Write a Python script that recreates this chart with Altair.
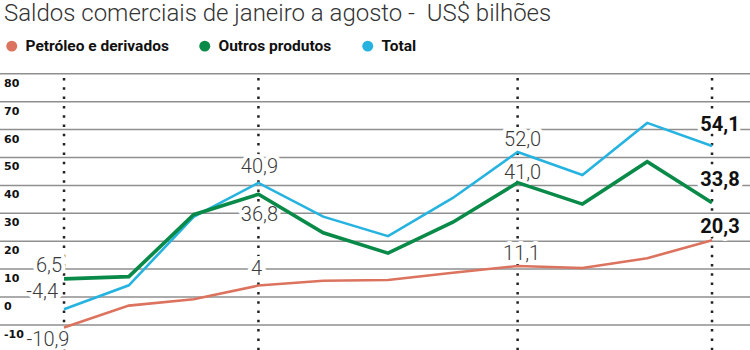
import altair as alt
import pandas as pd

# ---------------- data ----------------
idx = list(range(11))
petroleo = [-10.9, -3.1, -0.8, 4.1, 5.8, 6.1, 8.7, 11.1, 10.4, 13.9, 20.3]
outros = [6.5, 7.3, 29.5, 36.8, 23.0, 15.7, 26.8, 41.0, 33.3, 48.5, 33.8]
total = [-4.4, 4.2, 28.7, 40.9, 28.8, 21.8, 35.5, 52.0, 43.7, 62.4, 54.1]

series_names = ["Petróleo e derivados", "Outros produtos", "Total"]
series_colors = ["#DC735F", "#0A8A48", "#27B3DF"]

y_ticks = [-10, 0, 10, 20, 30, 40, 50, 60, 70, 80]
marker_idx = [0, 3, 7, 10]

lab_serie = ["Outros produtos", "Total", "Petróleo e derivados",
             "Total", "Outros produtos", "Petróleo e derivados",
             "Total", "Outros produtos", "Petróleo e derivados",
             "Total", "Outros produtos", "Petróleo e derivados"]
lab_i = [0, 0, 0, 3, 3, 3, 7, 7, 7, 10, 10, 10]
lab_text = ["6,5", "-4,4", "-10,9", "40,9", "36,8", "4",
            "52,0", "41,0", "11,1", "54,1", "33,8", "20,3"]

title_text = ["Saldos comerciais de janeiro a agosto -\u00a0 US$ bilhões"]

# ---------------- tables ----------------
vals = {"Petróleo e derivados": petroleo, "Outros produtos": outros, "Total": total}
rows = []
for s in series_names:
    for i, v in zip(idx, vals[s]):
        rows.append({"serie": s, "i": i, "v": v})
df = pd.DataFrame(rows)

lab_df = pd.DataFrame({
    "serie": lab_serie,
    "i": lab_i,
    "v": [vals[s][i] for s, i in zip(lab_serie, lab_i)],
    "txt": lab_text,
})
ticks_df = pd.DataFrame({"tick": y_ticks, "lbl": [str(t) for t in y_ticks]})
marks_df = pd.DataFrame({"i": marker_idx})
title_df = pd.DataFrame({"t": title_text})

# ---------------- scales ----------------
xs = alt.Scale(domain=[-0.988, 10.586], nice=False, zero=False)
ys = alt.Scale(domain=[-19.0, 106.45], nice=False, zero=False)

X = alt.X("i:Q", scale=xs, axis=None)
Y = alt.Y("v:Q", scale=ys, axis=None)

LIGHT = "Roboto"

title = alt.Chart(title_df).mark_text(
    align="left", baseline="alphabetic", font=LIGHT, fontWeight=300,
    fontSize=24, color="#333"
).encode(x=alt.value(4), y=alt.value(21), text="t:N")

grid = alt.Chart(ticks_df).mark_rule(color="#8f8f8f", strokeWidth=1.5).encode(
    y=alt.Y("tick:Q", scale=ys, axis=None)
)
tick_lbls = alt.Chart(ticks_df).mark_text(
    align="left", baseline="top", dy=4, font="DejaVu Sans", fontWeight="bold",
    fontSize=11, color="#111"
).encode(
    x=alt.value(4), y=alt.Y("tick:Q", scale=ys, axis=None), text="lbl:N"
)

dots = alt.Chart(marks_df).mark_rule(
    color="#222", strokeWidth=2.5, strokeDash=[2.5, 6.8], strokeCap="butt"
).encode(x=alt.X("i:Q", scale=xs, axis=None), y=alt.value(78), y2=alt.value(350))

# label spec: (align, dx, dy, bold)
spec = {
    ("Outros produtos", 0): ("right", -2, -13, False),
    ("Total", 0): ("right", -6, -17, False),
    ("Petróleo e derivados", 0): ("center", -16, 13, False),
    ("Total", 3): ("center", 1, -16, False),
    ("Outros produtos", 3): ("center", 1, 21, False),
    ("Petróleo e derivados", 3): ("center", -2, -17, False),
    ("Total", 7): ("center", 5, -12, False),
    ("Outros produtos", 7): ("center", 5, -10, False),
    ("Petróleo e derivados", 7): ("center", 4, -12, False),
    ("Total", 10): ("center", 8, -21, True),
    ("Outros produtos", 10): ("center", 8, -23, True),
    ("Petróleo e derivados", 10): ("center", 8, -13, True),
}

halo_layers = []
label_layers = []
for s, i in zip(lab_serie, lab_i):
    align, dx, dy, bold = spec[(s, i)]
    base = alt.Chart(lab_df).transform_filter(
        (alt.datum.serie == s) & (alt.datum.i == i)
    )
    kw = dict(align=align, dx=dx, dy=dy, baseline="middle",
              font=LIGHT, fontSize=20,
              fontWeight="bold" if bold else 300)
    halo_layers.append(base.mark_text(stroke="white", strokeWidth=8,
                                      strokeJoin="round", fill="white", **kw)
                       .encode(x=X, y=Y, text="txt:N"))
    label_layers.append(base.mark_text(color="#111" if bold else "#3a3a3a", **kw)
                        .encode(x=X, y=Y, text="txt:N"))

line_layers = []
widths = {"Petróleo e derivados": 2.6, "Total": 2.6, "Outros produtos": 3.6}
for s in ["Petróleo e derivados", "Total", "Outros produtos"]:
    c = series_colors[series_names.index(s)]
    line_layers.append(
        alt.Chart(df).transform_filter(alt.datum.serie == s)
        .mark_line(color=c, strokeWidth=widths[s], strokeJoin="miter")
        .encode(x=X, y=Y, order="i:Q")
    )

legend_layer = alt.Chart(df).mark_point(filled=True, opacity=0, size=10).encode(
    x=X, y=Y,
    color=alt.Color("serie:N",
                    scale=alt.Scale(domain=series_names, range=series_colors),
                    legend=alt.Legend(
                        orient="none", legendX=4, legendY=38,
                        direction="horizontal", title=None,
                        symbolType="circle", symbolSize=120,
                        symbolOpacity=1, symbolStrokeWidth=0,
                        labelFont="Roboto", labelFontSize=15.5,
                        labelFontWeight="bold", labelColor="#111",
                        columnPadding=28, labelOffset=6, padding=0,
                    )),
)

chart = alt.layer(
    title, grid, tick_lbls, dots, *halo_layers, *label_layers, *line_layers,
    legend_layer
).properties(
    width=750, height=350,
    autosize=alt.AutoSizeParams(type="none"),
    padding=0,
).configure_view(stroke=None)

chart.save("out.html", embed_options={"renderer": "svg", "actions": False})
